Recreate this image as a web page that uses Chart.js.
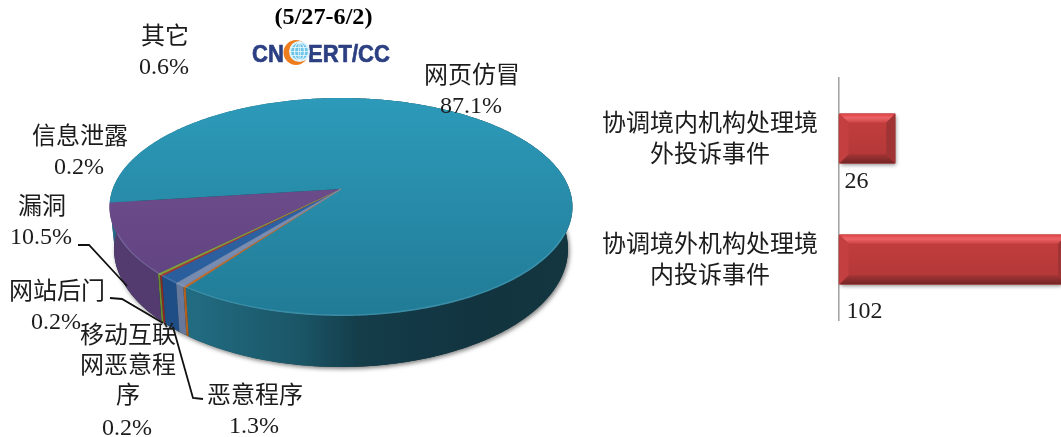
<!DOCTYPE html>
<html><head><meta charset="utf-8">
<style>html,body{margin:0;padding:0;background:#fff;overflow:hidden}
#w{position:relative;width:1061px;height:437px}
canvas{position:absolute;top:0}</style>
<script src="https://cdn.jsdelivr.net/npm/chart.js@4"></script></head>
<body><div id="w"><canvas id="pie" width="1061" height="437" style="left:0"></canvas><canvas id="bar" width="471" height="437" style="left:590px"></canvas></div>
<script>
const pieCategories=['恶意程序','移动互联网恶意程序','网站后门','漏洞','网页仿冒','信息泄露','其它'];
const pieValues=[1.3,0.2,0.2,10.5,87.1,0.2,0.6];
const barCategories=[['协调境内机构处理境','外投诉事件'],['协调境外机构处理境','内投诉事件']];
const barValues=[26,102];
const titleText='(5/27-6/2)';

const FONT='"Liberation Serif","Noto Sans CJK SC",serif';
const FS=24, TXT='#1c1c1c';
const topDark=['#2a5c9a','#a5342e','#7f9f3a','#5f4180','#217b96','#c46a28','#7489ad'];
const topLight=['#2f66a8','#b53a33','#8cad42','#74528f','#2d9aba','#d07530','#8095ba'];
const wallCol=['#1f4d86','#8a2b26','#6c8a30','#533a6f',null,'#b3601f','#66799c'];
const G={cx:341,cy:207,rx:231.5,ry:109,k:-0.165,lcy:249,lrx:227,lry:118};
const pieLabels=[
 {lines:['其它'],v:6,x:165,y:38},
 {lines:['网页仿冒'],v:4,x:472,y:77},
 {lines:['信息泄露'],v:5,x:80,y:138},
 {lines:['漏洞'],v:3,x:42,y:208},
 {lines:['网站后门'],v:2,x:57,y:293},
 {lines:['移动互联','网恶意程','序'],v:1,x:128,y:337},
 {lines:['恶意程序'],v:0,x:255,y:397}];
const leaders=[[[78,245],[89,245],[127,286]],[[110,298],[122,299],[163,323]],[[173,327],[193,398],[203,399]]];

function disc(t){const c=Math.cos(t),s=Math.sin(t),d=1+G.k*s;
  return [c*Math.sqrt(1-G.k*G.k)/d,(s+G.k)/d];}
function up(t){const p=disc(t);return [G.cx+G.rx*p[0],G.cy+G.ry*p[1]];}
function low(t){const p=disc(t);return [G.cx+G.lrx*p[0],G.lcy+G.lry*p[1]];}
function samples(a,b){const n=Math.max(2,Math.ceil((b-a)/0.01));const r=[];for(let i=0;i<=n;i++)r.push(a+(b-a)*i/n);return r;}

const pie3d={id:'pie3d',
 beforeDatasetDraw(chart){
  const c=chart.ctx,arcs=chart.getDatasetMeta(0).data;
  c.save();c.shadowColor='rgba(0,0,0,.5)';c.shadowBlur=4;c.shadowOffsetX=1.5;c.shadowOffsetY=2;
  c.fillStyle='#123540';c.beginPath();c.ellipse(G.cx,G.lcy,G.lrx,G.lry,0,0,7);c.fill();c.restore();
  arcs.forEach((a,i)=>{
   const ts=samples(a.startAngle,a.endAngle);
   c.beginPath();ts.forEach((t,j)=>{const p=up(t);j?c.lineTo(p[0],p[1]):c.moveTo(p[0],p[1]);});
   ts.slice().reverse().forEach(t=>{const p=low(t);c.lineTo(p[0],p[1]);});c.closePath();
   if(wallCol[i])c.fillStyle=wallCol[i];else{
    const g=c.createLinearGradient(184,0,575,0);
    g.addColorStop(0,'#226d83');g.addColorStop(.3,'#1a5566');g.addColorStop(.45,'#143c49');g.addColorStop(.75,'#123440');g.addColorStop(1,'#13363f');
    c.fillStyle=g;}
   c.fill();
  });
  arcs.forEach((a,i)=>{
   const ts=samples(a.startAngle,a.endAngle);
   c.beginPath();c.moveTo(G.cx,G.cy+G.k*G.ry);
   ts.forEach(t=>{const p=up(t);c.lineTo(p[0],p[1]);});c.closePath();
   const g=c.createLinearGradient(0,98,0,316);g.addColorStop(0,topLight[i]);g.addColorStop(1,topDark[i]);
   c.fillStyle=g;c.fill();
   if(i!==4&&i!==3){c.strokeStyle=g;c.lineWidth=.6;c.stroke();}
  });
  c.save();c.beginPath();c.ellipse(G.cx,G.cy,G.rx,G.ry,0,0,7);c.clip();
  c.strokeStyle='rgba(190,230,240,.16)';c.lineWidth=3;c.beginPath();
  c.ellipse(G.cx,G.cy,G.rx,G.ry,0,0.25,Math.PI-0.25);c.stroke();c.restore();
  return false;
 },
 afterDraw(chart){
  const c=chart.ctx;
  c.strokeStyle='#111';c.lineWidth=1.8;
  leaders.forEach(l=>{c.beginPath();l.forEach((p,i)=>i?c.lineTo(p[0],p[1]):c.moveTo(p[0],p[1]));c.stroke();});
  c.fillStyle=TXT;c.textAlign='center';c.textBaseline='middle';c.font=FS+'px '+FONT;
  pieLabels.forEach(l=>{let y=l.y;l.lines.forEach(s=>{c.fillText(s,l.x,y);y+=30;});
    c.fillText(pieValues[l.v].toFixed(1)+'%',l.x-1,y+(l.lines.length>1?2:0));});
  c.save();c.font='bold 23px '+FONT;c.fillStyle='#000';c.translate(323.5,18);c.scale(1.05,1);c.fillText(titleText,0,0);c.restore();
  c.save();c.font='bold 22px "Liberation Sans",sans-serif';c.fillStyle='#2b3f82';c.strokeStyle='#2b3f82';c.lineWidth=.6;c.textAlign='left';
  c.translate(0,62);c.scale(1,1.12);c.textBaseline='alphabetic';
  ['CN','ERT/CC'].forEach((s,i)=>{const x=i?308:252;c.fillText(s,x,0);c.strokeText(s,x,0);});c.restore();
  c.beginPath();c.arc(296,52.5,12.5,0,7);c.fillStyle='#ee7d1e';c.fill();
  c.beginPath();c.arc(299.5,51.5,10.5,0,7);c.fillStyle='#dff3fb';c.fill();
  c.beginPath();c.arc(299.5,51.5,8.5,0,7);c.fillStyle='#6cc4e8';c.fill();
  c.strokeStyle='#e8f6fc';c.lineWidth=.8;
  [-4,0,4].forEach(d=>{c.beginPath();c.moveTo(291,51.5+d);c.lineTo(308,51.5+d);c.stroke();
    c.beginPath();c.ellipse(299.5,51.5,Math.abs(d)+1,8.5,0,0,7);c.stroke();});
 }};
new Chart(document.getElementById('pie'),{type:'pie',
 data:{labels:pieCategories,datasets:[{data:pieValues,backgroundColor:topLight}]},
 options:{responsive:false,animation:false,rotation:219,plugins:{legend:{display:false},tooltip:{enabled:false}}},
 plugins:[pie3d]});

const valueOffsets=[{dx:6,dy:43},{dx:8,dy:52}];
const bevel={id:'bevel',
 beforeDatasetsDraw(chart){
  const c=chart.ctx;chart.getDatasetMeta(0).data.forEach(b=>{
   c.save();c.shadowColor='rgba(0,0,0,.45)';c.shadowBlur=4;c.shadowOffsetX=1;c.shadowOffsetY=2;
   c.fillStyle='#7e2a2b';c.fillRect(b.base+1,b.y-b.height/2,b.x-b.base-1,b.height);c.restore();});
 },
 afterDatasetsDraw(chart){
  const c=chart.ctx,area=chart.chartArea;
  chart.getDatasetMeta(0).data.forEach((b,i)=>{
   const d=9,L=b.base+1,T=b.y-b.height/2,B=b.y+b.height/2;
   const R=b.x>=area.right-1?b.x+d-3:b.x;
   const poly=(pts,fill)=>{c.beginPath();pts.forEach((p,j)=>j?c.lineTo(p[0],p[1]):c.moveTo(p[0],p[1]));c.closePath();c.fillStyle=fill;c.fill();};
   let g=c.createLinearGradient(0,T,0,B);g.addColorStop(0,'#c43e3e');g.addColorStop(1,'#b23737');
   c.fillStyle=g;c.fillRect(L,T,R-L,B-T);
   g=c.createLinearGradient(0,T,0,T+d);g.addColorStop(0,'#de4146');g.addColorStop(.45,'#ec6466');g.addColorStop(1,'#cc4445');
   poly([[L,T],[R,T],[R-d,T+d],[L+d,T+d]],g);
   g=c.createLinearGradient(0,B-d,0,B);g.addColorStop(0,'#a33435');g.addColorStop(1,'#742526');
   poly([[L,B],[R,B],[R-d,B-d],[L+d,B-d]],g);
   poly([[L,T],[L+d,T+d],[L+d,B-d],[L,B]],'#c43f40');
   poly([[R,T],[R-d,T+d],[R-d,B-d],[R,B]],'#a03435');
   c.fillStyle=TXT;c.textAlign='left';c.textBaseline='middle';c.font=FS+'px '+FONT;
   c.fillText(String(barValues[i]),b.base+valueOffsets[i].dx,b.y+valueOffsets[i].dy);
  });
 }};
new Chart(document.getElementById('bar'),{type:'bar',
 data:{labels:barCategories,datasets:[{data:barValues,backgroundColor:'#bf3b3b',barPercentage:.41,categoryPercentage:1}]},
 options:{responsive:false,animation:false,indexAxis:'y',
  layout:{padding:{top:78,bottom:117,left:0,right:0}},
  plugins:{legend:{display:false},tooltip:{enabled:false}},
  scales:{
   x:{display:false,min:0,max:102},
   y:{afterFit(s){s.width=248.5;},grid:{display:false,drawTicks:false},
      border:{display:true,color:'#a6a6a6',width:1.6},
      ticks:{color:TXT,crossAlign:'center',padding:20.5,labelOffset:2,font:{family:FONT,size:FS,lineHeight:1.29}}}}},
 plugins:[bevel]});
</script></body></html>
